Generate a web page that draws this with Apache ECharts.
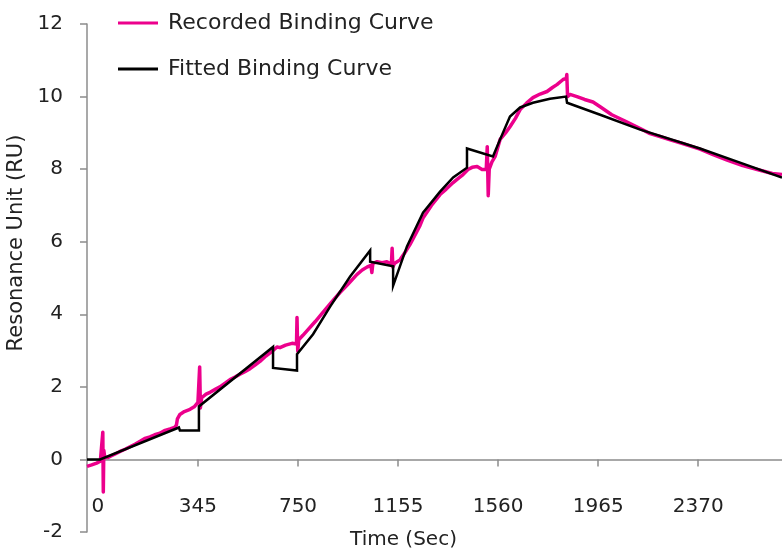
<!DOCTYPE html>
<html>
<head>
<meta charset="utf-8">
<script src="https://cdn.jsdelivr.net/npm/echarts@6/dist/echarts.min.js"></script>
<style>
html,body{margin:0;padding:0;background:#fff;}
#chart{width:782px;height:552px;}
</style>
</head>
<body>
<div id="chart"></div>
<script>
// Tick label positions (seconds on the drawn time scale) and their texts
var tickPositions = [-60, 345, 750, 1155, 1560, 1965, 2370];
var tickLabels = ['0', '345', '750', '1155', '1560', '1965', '2370'];

// Recorded binding curve
var recordedTime = [-104,-85,-65,-50,-42,-40,-38,-36,-32,-20,-5,10,30,50,70,90,111,130,151,170,191,212,232,250,258,262,272,290,313,330,345,350,352,355,360,378,394,415,434,455,475,495,515,535,556,576,596,620,649,665,677,700,726,744,746,749,753,770,787,820,851,885,920,955,989,1010,1029,1045,1049,1053,1070,1090,1110,1128,1131,1134,1140,1163,1183,1203,1225,1244,1256,1290,1325,1350,1378,1400,1418,1438,1455,1475,1495,1512,1516,1520,1524,1535,1548,1568,1590,1608,1630,1649,1675,1701,1730,1758,1780,1798,1823,1836,1838,1841,1851,1879,1910,1944,1973,2020,2082,2135,2175,2215,2260,2300,2377,2430,2487,2550,2620,2670,2709];
var recordedRU = [-0.19,-0.15,-0.1,-0.05,0.0,0.75,-0.9,0.25,0.05,0.05,0.1,0.15,0.22,0.28,0.35,0.42,0.5,0.58,0.62,0.68,0.72,0.8,0.84,0.88,0.95,1.12,1.24,1.32,1.38,1.45,1.57,1.58,2.55,1.42,1.7,1.8,1.85,1.93,2.0,2.1,2.2,2.27,2.35,2.42,2.5,2.6,2.7,2.85,3.0,3.1,3.08,3.15,3.2,3.18,3.91,2.98,3.3,3.42,3.55,3.8,4.05,4.33,4.6,4.85,5.1,5.22,5.3,5.35,5.15,5.4,5.45,5.42,5.45,5.38,5.82,5.3,5.4,5.5,5.7,5.92,6.2,6.45,6.65,7.0,7.3,7.45,7.63,7.75,7.85,7.99,8.05,8.07,7.99,8.0,8.62,7.27,8.0,8.2,8.35,8.82,9.0,9.17,9.4,9.64,9.82,9.97,10.07,10.14,10.25,10.33,10.47,10.5,10.61,10.0,10.06,10.0,9.92,9.85,9.72,9.5,9.3,9.12,8.98,8.9,8.8,8.72,8.55,8.4,8.25,8.1,7.97,7.88,7.85];

// Fitted binding curve
var fittedTime = [-104,-51,268,272,349,349,649,649,746,746,811,880,961,1042,1042,1135,1135,1191,1256,1325,1378,1434,1434,1539,1568,1608,1649,1701,1770,1835,1839,1973,2135,2377,2539,2709];
var fittedRU = [0,0,0.88,0.8,0.8,1.46,3.1,2.52,2.45,2.9,3.45,4.21,5.04,5.76,5.45,5.32,4.79,5.87,6.8,7.38,7.77,8.04,8.57,8.35,8.82,9.45,9.7,9.83,9.94,10.0,9.83,9.5,9.09,8.57,8.18,7.77];

function pairs(xs, ys){ return xs.map(function(x,i){ return [x, ys[i]]; }); }

var FONT = '"DejaVu Sans", "Open Sans", sans-serif';
var chart = echarts.init(document.getElementById('chart'), null, {renderer:'canvas'});
chart.setOption({
  animation: false,
  backgroundColor: '#ffffff',
  grid: {left: 87, right: 0, top: 24, bottom: 20, containLabel: false, outerBoundsMode: 'none'},
  legend: {
    orient: 'vertical', left: 118, top: 12, padding: 0, itemWidth: 40, itemHeight: 3, itemGap: 24,
    icon: 'rect',
    textStyle: {fontFamily: FONT, fontSize: 22, color: '#222', padding: [0,0,0,5]},
    data: ['Recorded Binding Curve', 'Fitted Binding Curve']
  },
  xAxis: [
    {
      type: 'value', min: -104, max: 2709,
      axisLine: {onZero: true, lineStyle: {color: '#8c8c8c', width: 1.5}},
      axisTick: {show: true, length: 7, lineStyle: {color: '#8c8c8c', width: 1.5},
        customValues: tickPositions.slice(1)},
      axisLabel: {show: false},
      splitLine: {show: false}
    },
    {
      type: 'value', min: -104, max: 2709, position: 'bottom',
      name: 'Time (Sec)', nameLocation: 'middle', nameGap: 8, nameMoveOverlap: false,
      nameTextStyle: {fontFamily: FONT, fontSize: 20, color: '#222', verticalAlign: 'middle', padding: [0, 62, 0, 0]},
      axisLine: {show: false, onZero: false},
      axisTick: {show: false},
      axisLabel: {
        show: true, inside: true, customValues: tickPositions, margin: 15, hideOverlap: false,
        fontFamily: FONT, fontSize: 20, color: '#222',
        formatter: function(v){ var i = tickPositions.indexOf(v); return i >= 0 ? tickLabels[i] : ''; }
      },
      splitLine: {show: false}
    }
  ],
  yAxis: {
    type: 'value', min: -2, max: 12, interval: 2,
    name: 'Resonance Unit (RU)', nameLocation: 'middle', nameGap: 58,
    nameTextStyle: {fontFamily: FONT, fontSize: 21, color: '#222', padding: [0, 0, 0, 70]},
    axisLine: {show: true, onZero: false, lineStyle: {color: '#8c8c8c', width: 1.5}},
    axisTick: {show: true, inside: false, length: 7, lineStyle: {color: '#8c8c8c', width: 1.5}},
    axisLabel: {margin: 24, fontFamily: FONT, fontSize: 20, color: '#222'},
    splitLine: {show: false}
  },
  series: [
    {
      name: 'Recorded Binding Curve', type: 'line', showSymbol: false, xAxisIndex: 0,
      data: pairs(recordedTime, recordedRU),
      itemStyle: {color: '#ec008c'},
      lineStyle: {color: '#ec008c', width: 3.5, join: 'round'},
      z: 2
    },
    {
      name: 'Fitted Binding Curve', type: 'line', showSymbol: false, xAxisIndex: 0,
      data: pairs(fittedTime, fittedRU),
      itemStyle: {color: '#000000'},
      lineStyle: {color: '#000000', width: 2.5, join: 'miter'},
      z: 3
    }
  ]
});
</script>
</body>
</html>
